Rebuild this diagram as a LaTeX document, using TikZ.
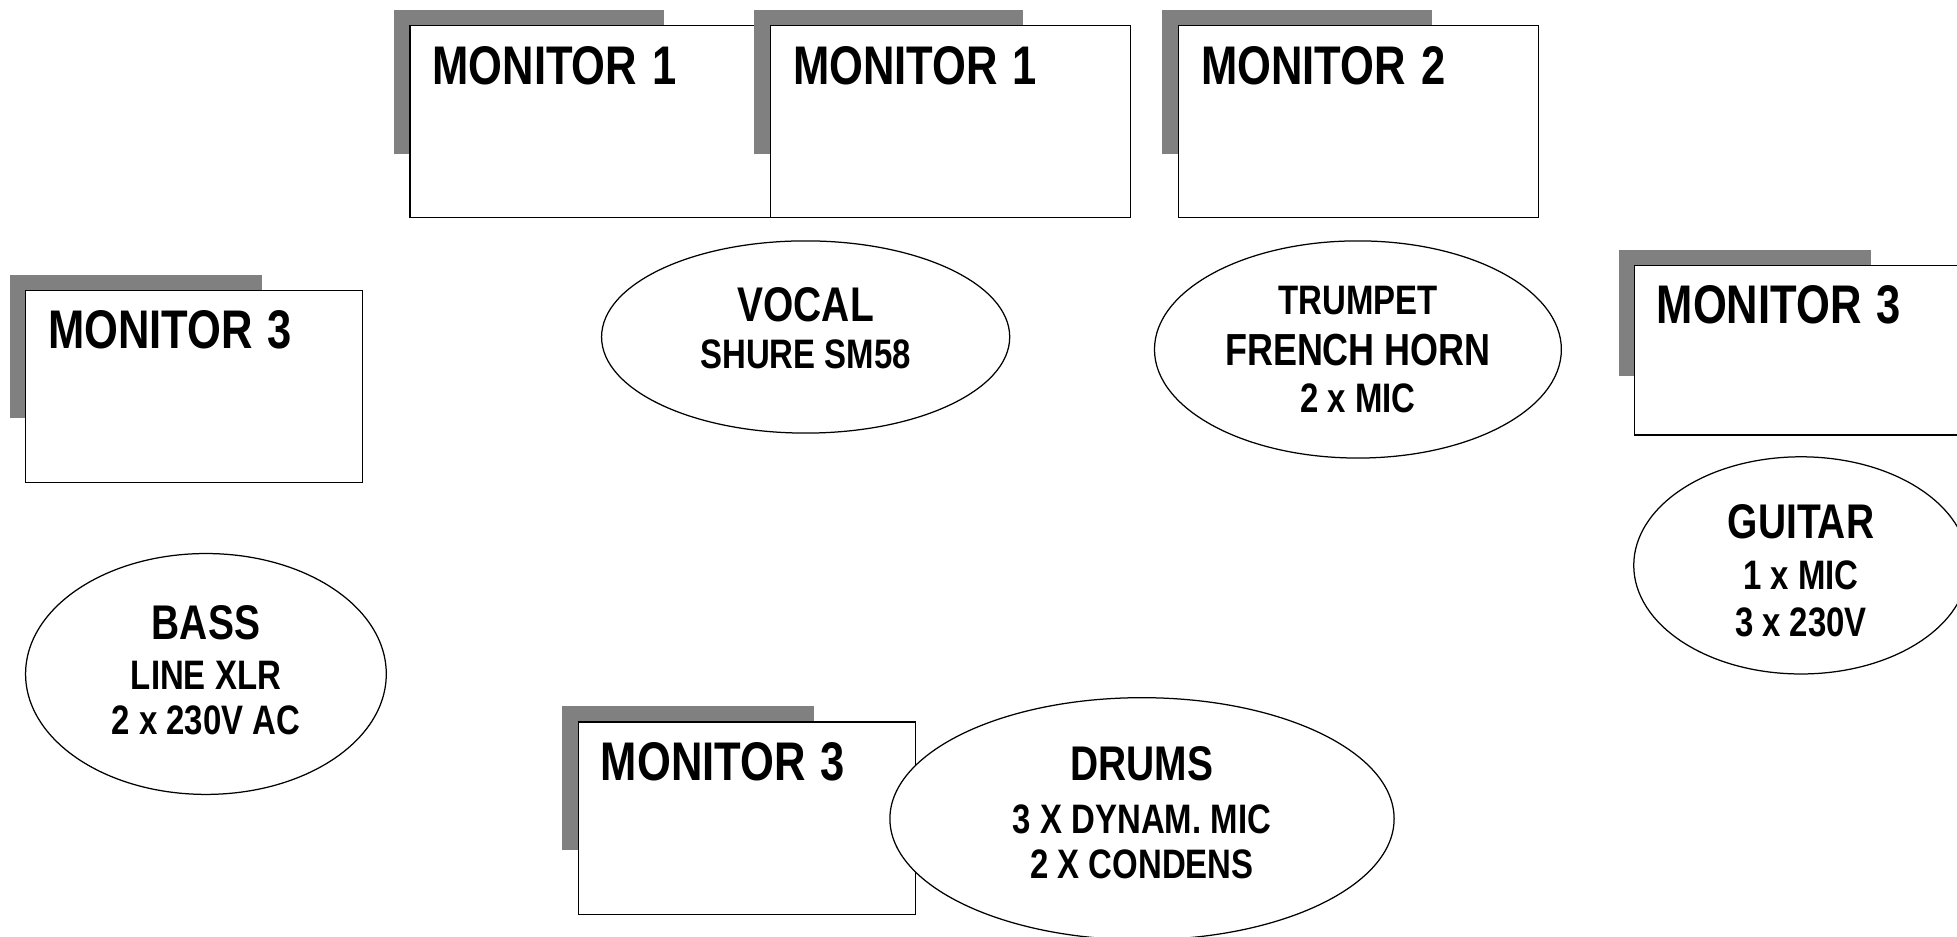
\documentclass[tikz,border=0pt]{standalone}
\usepackage{fontspec}
\newfontfamily\stfont[FakeStretch=0.8]{Liberation Sans}
\usetikzlibrary{shapes.geometric}
\definecolor{shadowgray}{RGB}{128,128,128}
\newcommand{\ttl}{\fontsize{43.6bp}{50bp}\selectfont}
\newcommand{\hd}[1]{{\fontsize{39bp}{39bp}\selectfont #1}}
\newcommand{\sbt}{\fontsize{33bp}{38bp}\selectfont}
\newcommand{\mon}[1]{\ttl MONITOR\hspace{0.2em} #1}
\tikzset{
  base/.style={font=\stfont\bfseries},
  monbox/.style n args={2}{base, draw=black, fill=white, line width=1bp, anchor=north west,
    inner xsep=18bp, inner ysep=16bp, align=left, text width=#1bp-36bp,
    text height=31bp, text depth=#2bp-63bp},
  instr/.style n args={2}{ellipse, draw=black, fill=white, line width=1bp, inner sep=0pt,
    minimum width=#1bp, minimum height=#2bp, align=center, font=\stfont\bfseries\sbt},
  shadowbox/.style={fill=shadowgray},
}
\begin{document}
\begin{tikzpicture}[x=1bp,y=-1bp]
\useasboundingbox (0,0) rectangle (1568,750);
\clip (0,0) rectangle (1568,750);
% Monitor 1 (left)
\fill[shadowbox] (316,8) rectangle (532,123);
\node[monbox={289}{154}] (mon1a) at (328,20) {\mon{1}};
% Monitor 1 (right)
\fill[shadowbox] (604,8) rectangle (820,123);
\node[monbox={288}{154}] (mon1b) at (617,20) {\mon{1}};
% Monitor 2
\fill[shadowbox] (931,8) rectangle (1147,123);
\node[monbox={288}{154}] (mon2) at (944,20) {\mon{2}};
% Monitor 3 (left)
\fill[shadowbox] (8,220) rectangle (210,335);
\node[monbox={270}{154}] (mon3l) at (20,232) {\mon{3}};
% Monitor 3 (right)
\fill[shadowbox] (1297,200) rectangle (1499,301);
\node[monbox={270}{136}] (mon3r) at (1309,212) {\mon{3}};
% Monitor 3 (bottom)
\fill[shadowbox] (450,566) rectangle (652,681);
\node[monbox={270}{154}] (mon3b) at (463,578) {\mon{3}};
% Instruments
\node[instr={327}{154}] (vocal) at (645.5,270)
  {\hd{VOCAL}\\ SHURE SM58\rule[-14bp]{0pt}{0pt}};
\node[instr={326}{174}] (trumpet) at (1088,280)
  {TRUMPET\\[3bp] {\fontsize{36bp}{38bp}\selectfont FRENCH HORN}\\ 2 x MIC};
\node[instr={268}{174}] (guitar) at (1443,453)
  {\rule{0pt}{36bp}\hd{GUITAR}\\[3bp] 1 x MIC\\ 3 x 230V};
\node[instr={289}{193}] (bass) at (165,540)
  {\hd{BASS}\\[2bp] LINE XLR\\[-2bp] 2 x 230V AC\rule[-6bp]{0pt}{0pt}};
\node[instr={404}{194}] (drums) at (915,656)
  {\hd{DRUMS}\\[4bp] 3 X DYNAM. MIC\\[-2bp] 2 X CONDENS\rule[-10bp]{0pt}{0pt}};
\end{tikzpicture}
\end{document}
